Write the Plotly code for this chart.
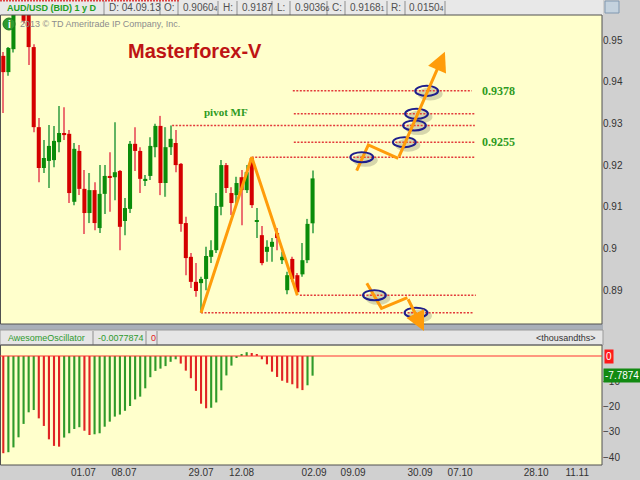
import plotly.graph_objects as go

# ------------------------------------------------------------------ data
symbol_label = "AUD/USD (BID) 1 y D"
last_date = "04.09.13"

opens = [0.9462, 0.9423, 0.9478, 0.9620, 0.9590, 0.9575, 0.9483, 0.9291, 0.9193, 0.9210,
         0.9212, 0.9255, 0.9277, 0.9275, 0.9112, 0.9234, 0.9143, 0.9085, 0.9140, 0.9049,
         0.9131, 0.9174, 0.9171, 0.9186, 0.9066, 0.9095, 0.9251, 0.9234, 0.9164, 0.9174,
         0.9243, 0.9294, 0.9157, 0.9243, 0.9253, 0.9203, 0.9061, 0.8980, 0.8920, 0.8917,
         0.8927, 0.8980, 0.8996, 0.9100, 0.9200, 0.9133, 0.9128, 0.9171, 0.9140, 0.9217,
         0.9064, 0.9032, 0.8992, 0.9004, 0.9037, 0.8972, 0.8900, 0.8975, 0.8936, 0.8938,
         0.8972, 0.90604]
highs = [0.9471, 0.9483, 0.9605, 0.9650, 0.9600, 0.9585, 0.9490, 0.9313, 0.9260, 0.9296,
         0.9294, 0.9342, 0.9339, 0.9284, 0.9253, 0.9248, 0.9188, 0.9181, 0.9159, 0.9200,
         0.9200, 0.9231, 0.9303, 0.9188, 0.9121, 0.9258, 0.9291, 0.9243, 0.9176, 0.9267,
         0.9299, 0.9318, 0.9291, 0.9295, 0.9284, 0.9205, 0.9076, 0.8989, 0.8965, 0.8932,
         0.9004, 0.9020, 0.9133, 0.9212, 0.9205, 0.9147, 0.9172, 0.9188, 0.9200, 0.9219,
         0.9097, 0.9054, 0.9020, 0.9025, 0.9049, 0.8992, 0.8944, 0.8980, 0.8941, 0.9013,
         0.9071, 0.9187]
lows = [0.9325, 0.9414, 0.9470, 0.9585, 0.9540, 0.9440, 0.9279, 0.9159, 0.9181, 0.9145,
        0.9195, 0.9231, 0.9260, 0.9109, 0.9104, 0.9128, 0.9035, 0.9061, 0.9044, 0.9037,
        0.9083, 0.9088, 0.9116, 0.8996, 0.9032, 0.9085, 0.9186, 0.9133, 0.9150, 0.9164,
        0.9219, 0.9128, 0.9124, 0.9224, 0.9183, 0.9040, 0.8936, 0.8905, 0.8884, 0.8846,
        0.8900, 0.8965, 0.8989, 0.9080, 0.9133, 0.9080, 0.9105, 0.9056, 0.9133, 0.9097,
        0.9025, 0.8960, 0.8968, 0.8968, 0.8996, 0.8963, 0.8890, 0.8920, 0.8888, 0.8932,
        0.8965, 0.90366]
closes = [0.9423, 0.9481, 0.9580, 0.9600, 0.9546, 0.9483, 0.9291, 0.9193, 0.9217, 0.9246,
          0.9258, 0.9277, 0.9272, 0.9133, 0.9239, 0.9143, 0.9085, 0.9140, 0.9061, 0.9131,
          0.9174, 0.9169, 0.9183, 0.9052, 0.9097, 0.9251, 0.9234, 0.9167, 0.9167, 0.9246,
          0.9294, 0.9157, 0.9243, 0.9263, 0.9200, 0.9059, 0.8977, 0.8920, 0.8898, 0.8927,
          0.8982, 0.8996, 0.9102, 0.9200, 0.9145, 0.9109, 0.9157, 0.9140, 0.9183, 0.9104,
          0.9068, 0.8965, 0.9004, 0.9016, 0.9025, 0.8980, 0.8936, 0.8927, 0.8895, 0.8972,
          0.9059, 0.91681]

# Awesome Oscillator, thousandths
ao_before = -37.9
ao_values = [-38.5, -38.1, -36.2, -32.2, -26.9, -22.3, -21.4, -24.7, -27.7, -33.0,
             -35.6, -35.9, -32.3, -30.6, -28.9, -28.2, -29.6, -31.3, -31.0, -30.6,
             -28.0, -26.0, -24.0, -23.2, -21.7, -19.8, -17.2, -16.1, -12.8, -8.4,
             -5.9, -5.0, -4.0, -2.3, -1.3, -3.0, -5.8, -8.8, -13.8, -18.9,
             -20.7, -20.5, -18.4, -13.6, -7.7, -3.8, -0.6, 0.8, 1.5, 1.2,
             0.4, -1.3, -3.3, -6.2, -8.3, -9.8, -10.6, -11.2, -12.8, -13.5,
             -11.6, -7.7874]

x_tick_labels = ["01.07", "08.07", "29.07", "12.08", "02.09", "09.09", "30.09", "07.10", "28.10", "11.11"]
x_tick_bars = [15.8, 23.8, 39.0, 47.0, 61.3, 69.0, 82.2, 90.1, 105.1, 113.2]
price_ticks = [0.89, 0.9, 0.91, 0.92, 0.93, 0.94, 0.95]
ao_ticks = [-10, -20, -30, -40]

# dotted level lines (price, first bar, last bar)
level_values = [0.9378, 0.9323, 0.9295, 0.9255, 0.9219, 0.8888, 0.8846]
level_first_bar = [57.1, 57.3, 33.3, 57.3, 49.0, 58.5, 39.0]
level_last_bar = [92.4, 93.0, 93.0, 93.0, 93.0, 93.2, 92.6]
labeled_levels = ["0.9378", "0.9255"]
pivot_label = "pivot MF"

# circled crossings (bar, price)
ellipse_bars = [83.5, 81.5, 81.1, 79.1, 70.7, 73.2, 81.4]
ellipse_prices = [0.9378, 0.9323, 0.9295, 0.9255, 0.9219, 0.8888, 0.8846]

# zig-zag swing (bar index of its points)
swing_bars = [39, 49, 58]
# projected paths
up_bars = [69.7, 72.0, 77.9]
up_prices = [0.91866, 0.92482, 0.92163]
up_tip = (87.1, 0.9472)
down_bars = [71.7, 74.6, 79.7]
down_prices = [0.89166, 0.88566, 0.88820]

header_values = {"O": "0.9060<span style='font-size:7px'>4</span>",
                 "H": "0.9187",
                 "L": "0.9036<span style='font-size:7px'>6</span>",
                 "C": "0.9168<span style='font-size:7px'>1</span>",
                 "R": "0.0150<span style='font-size:7px'>4</span>"}

# ------------------------------------------------------------------ geometry
W, H = 640, 480
ML, MR, MT, MB = 0, 38, 15, 15
PW, PH = W - ML - MR, H - MT - MB
BAR_X0, BAR_DX = 3.3, 5.07          # pixel position of bar 0, bar spacing
PRICE_PX = 4170.0                   # pixels per 1.0 of price
P_REF, P_REF_Y = 0.95, 40.0
AO_PX, AO_ZERO_Y = 2.525, 356.0

def PX(x):
    return (x - ML) / PW

def PY(y):
    return (H - MB - y) / PH

x_range = [(0 - BAR_X0) / BAR_DX, (PW - BAR_X0) / BAR_DX]
main_top, main_bot = 15, 324
osc_top, osc_bot = 345, 465
y_range = [P_REF - (main_bot - P_REF_Y) / PRICE_PX, P_REF + (P_REF_Y - main_top) / PRICE_PX]
y2_range = [-(osc_bot - AO_ZERO_Y) / AO_PX, (AO_ZERO_Y - osc_top) / AO_PX]

GREEN, RED = "#0A8C0A", "#D40000"
GREEN_W, RED_W = "#62B462", "#EC7070"
ORANGE = "#FF9C0A"
NAVY = "#1E1E8C"
LEVEL_RED = "#E23A3A"
TEXT_GREEN = "#2E9A22"

n = len(opens)
idx = list(range(n))
up = [c >= o for o, c in zip(opens, closes)]

fig = go.Figure()

# wicks
fig.add_trace(go.Bar(x=idx, y=[h - l for h, l in zip(highs, lows)], base=lows, width=0.22,
                     marker=dict(color=[GREEN_W if u else RED_W for u in up], line=dict(width=0)),
                     xaxis="x", yaxis="y", hoverinfo="skip"))
# bodies
fig.add_trace(go.Bar(x=idx, y=[max(abs(c - o), 0.00025) for o, c in zip(opens, closes)],
                     base=[min(o, c) for o, c in zip(opens, closes)], width=0.8,
                     marker=dict(color=[GREEN if u else RED for u in up], line=dict(width=0)),
                     xaxis="x", yaxis="y", hoverinfo="skip"))

# AO histogram
prev = [ao_before] + ao_values[:-1]
ao_colors = ["#2F9A2A" if v >= p else "#E02424" for v, p in zip(ao_values, prev)]
fig.add_trace(go.Bar(x=idx, y=ao_values, width=0.42, marker=dict(color=ao_colors, line=dict(width=0)),
                     xaxis="x2", yaxis="y2", hoverinfo="skip"))

# level lines
for v, a, b in zip(level_values, level_first_bar, level_last_bar):
    fig.add_trace(go.Scatter(x=[a, b], y=[v, v], mode="lines",
                             line=dict(color=LEVEL_RED, width=1.5, dash="2px,1.5px"),
                             xaxis="x", yaxis="y", hoverinfo="skip"))

# swing zigzag
swing_prices = [lows[swing_bars[0]], highs[swing_bars[1]], lows[swing_bars[2]]]
fig.add_trace(go.Scatter(x=swing_bars, y=swing_prices, mode="lines",
                         line=dict(color=ORANGE, width=3), xaxis="x", yaxis="y", hoverinfo="skip"))
fig.add_trace(go.Scatter(x=up_bars, y=up_prices, mode="lines",
                         line=dict(color=ORANGE, width=3), xaxis="x", yaxis="y", hoverinfo="skip"))
fig.add_trace(go.Scatter(x=down_bars, y=down_prices, mode="lines",
                         line=dict(color=ORANGE, width=3), xaxis="x", yaxis="y", hoverinfo="skip"))

shapes = []
# header bar
shapes.append(dict(type="rect", xref="paper", yref="paper", x0=PX(0), x1=PX(603), y0=PY(0), y1=PY(15),
                   fillcolor="#E8E8E8", line=dict(width=0), layer="below"))
for bx in [104, 160, 178, 218, 237, 272, 290, 327, 345, 387, 405, 445]:
    shapes.append(dict(type="line", xref="paper", yref="paper", x0=PX(bx), x1=PX(bx), y0=PY(1), y1=PY(15),
                       line=dict(color="#8E8E8E", width=1)))
shapes.append(dict(type="line", xref="paper", yref="paper", x0=PX(0), x1=PX(180), y0=PY(0.8), y1=PY(0.8),
                   line=dict(color="#E04040", width=1.5, dash="2px,1px")))
# top-right icon
shapes.append(dict(type="rect", xref="paper", yref="paper", x0=PX(605), x1=PX(619), y0=PY(13), y1=PY(1),
                   fillcolor="#C4D2DE", line=dict(color="#8098B0", width=1)))
# separator & oscillator header
shapes.append(dict(type="rect", xref="paper", yref="paper", x0=PX(0), x1=PX(603), y0=PY(330), y1=PY(324),
                   fillcolor="#A9AFB8", line=dict(width=0)))
shapes.append(dict(type="rect", xref="paper", yref="paper", x0=PX(0), x1=PX(603), y0=PY(345), y1=PY(330),
                   fillcolor="#E6E6E6", line=dict(color="#9A9A9A", width=1)))
for bx in [93, 146, 157]:
    shapes.append(dict(type="line", xref="paper", yref="paper", x0=PX(bx), x1=PX(bx), y0=PY(331), y1=PY(345),
                       line=dict(color="#8E8E8E", width=1)))
# panel frames
shapes.append(dict(type="rect", xref="paper", yref="paper", x0=PX(0.5), x1=PX(602), y0=PY(main_bot), y1=PY(main_top),
                   line=dict(color="#505050", width=1)))
shapes.append(dict(type="rect", xref="paper", yref="paper", x0=PX(0.5), x1=PX(602), y0=PY(osc_bot), y1=PY(osc_top),
                   line=dict(color="#505050", width=1)))
# zero line of oscillator
shapes.append(dict(type="line", xref="paper", yref="y2", x0=0, x1=1, y0=0, y1=0,
                   line=dict(color="#FF3030", width=1)))
# info icon
shapes.append(dict(type="circle", xref="paper", yref="paper", x0=PX(3), x1=PX(15), y0=PY(30), y1=PY(18),
                   fillcolor="#2E9A2E", line=dict(color="#1E7A1E", width=1)))

# ellipses with shadows
EW, EH = 4.5, 0.0024
for bx, pv in zip(ellipse_bars, ellipse_prices):
    shapes.append(dict(type="circle", xref="x", yref="y", x0=bx - EW / 2 + 0.5, x1=bx + EW / 2 + 0.9,
                       y0=pv - EH / 2 - 0.0011, y1=pv + EH / 2 - 0.0004,
                       fillcolor="rgba(120,120,95,0.30)", line=dict(width=0), layer="below"))
for bx, pv in zip(ellipse_bars, ellipse_prices):
    shapes.append(dict(type="circle", xref="x", yref="y", x0=bx - EW / 2, x1=bx + EW / 2,
                       y0=pv - EH / 2, y1=pv + EH / 2, line=dict(color=NAVY, width=2)))

ann = []
def text(x, y, s, size=10, color="#505050", anchor="left", bold=False, family=None, **kw):
    d = dict(xref="paper", yref="paper", x=PX(x), y=PY(y), text=("<b>%s</b>" % s) if bold else s,
             showarrow=False, xanchor=anchor, yanchor="middle",
             font=dict(size=size, color=color, family=family or "Liberation Sans, Arial"))
    d.update(kw)
    ann.append(d)

text(5, 7.5, symbol_label, size=9, color="#22A022", bold=True)
text(107, 7.5, "D: " + last_date)
hdr_x = {"O": (162, 181), "H": (221, 240), "L": (275, 293), "C": (330, 348), "R": (389, 407)}
for k, (lx, vx) in hdr_x.items():
    text(lx, 7.5, k + ":")
    text(vx, 7.5, header_values[k])

text(18, 24.5, "2013 © TD Ameritrade IP Company, Inc.", size=9, color="#8C8C8C")
text(9, 24, "i", size=10, color="white", anchor="center", bold=True)
text(195, 51, "Masterforex-V", size=20, color="#BE1414", anchor="center", bold=True)

text(6, 337.5, "AwesomeOscillator", size=9, color="#2E9A2E")
text(96, 337.5, "%.7f" % (ao_values[-1] / 1000), size=9, color="#2E9A2E")
text(149, 337.5, "0", size=9, color="#E02020")
text(598, 337.5, "&lt;thousandths&gt;", size=9, color="#333333", anchor="right")

# level texts in data coordinates
ann.append(dict(xref="x", yref="y", x=(204 + 248) / 2 / BAR_DX - BAR_X0 / BAR_DX, y=level_values[2] + 0.0033,
                text="<b>%s</b>" % pivot_label, showarrow=False, xanchor="center", yanchor="middle",
                font=dict(size=11, color=TEXT_GREEN, family="Liberation Serif, Times New Roman")))
for lab in labeled_levels:
    ann.append(dict(xref="x", yref="y", x=(480 - BAR_X0) / BAR_DX, y=float(lab),
                    text="<b>%s</b>" % lab, showarrow=False, xanchor="left", yanchor="middle",
                    font=dict(size=12, color=TEXT_GREEN, family="Liberation Serif, Times New Roman")))

# oscillator badges
ann.append(dict(xref="paper", yref="y2", x=1, y=0, xanchor="left", yanchor="middle", xshift=2,
                text="0", showarrow=False, bgcolor="#FF1A1A", borderpad=1,
                font=dict(size=10, color="white")))
ann.append(dict(xref="paper", yref="y2", x=1, y=ao_values[-1], xanchor="left", yanchor="middle", xshift=1,
                text="%.4f" % ao_values[-1], showarrow=False, bgcolor="#128A12", borderpad=1,
                font=dict(size=10, color="white")))

# arrow heads of projected paths
ann.append(dict(xref="x", yref="y", x=up_tip[0], y=up_tip[1], axref="x", ayref="y",
                ax=up_bars[-1], ay=up_prices[-1], text="", showarrow=True,
                arrowhead=2, arrowsize=1.3, arrowwidth=3, arrowcolor=ORANGE, standoff=0))
tail_px_x = BAR_X0 + down_bars[-1] * BAR_DX
tail_px_y = P_REF_Y + (P_REF - down_prices[-1]) * PRICE_PX
tip_px = (424.0, 331.0)
ann.append(dict(xref="x", yref="paper", x=(tip_px[0] - BAR_X0) / BAR_DX, y=PY(tip_px[1]),
                ax=tail_px_x - tip_px[0], ay=tail_px_y - tip_px[1], text="", showarrow=True,
                arrowhead=2, arrowsize=1.3, arrowwidth=3, arrowcolor=ORANGE, standoff=0))

fig.update_layout(
    template="none",
    width=W, height=H,
    margin=dict(l=ML, r=MR, t=MT, b=MB, pad=0),
    paper_bgcolor="#D0D0D0",
    plot_bgcolor="#FFFFCC",
    showlegend=False,
    barmode="overlay",
    font=dict(family="Liberation Sans, Arial", size=10, color="#333333"),
    xaxis=dict(domain=[0, 1], range=x_range, anchor="y", showticklabels=False, showgrid=False,
               zeroline=False, showline=False, ticks="", fixedrange=True),
    xaxis2=dict(domain=[0, 1], range=x_range, anchor="y2", tickmode="array", tickvals=x_tick_bars,
                ticktext=x_tick_labels, showgrid=False, zeroline=False, showline=False, ticks="",
                tickfont=dict(size=10, color="#333333"), fixedrange=True),
    yaxis=dict(domain=[PY(main_bot), PY(main_top)], range=y_range, anchor="x", side="right",
               tickmode="array", tickvals=price_ticks, showgrid=False, zeroline=False, showline=False,
               ticks="", tickfont=dict(size=10, color="#333333"), fixedrange=True),
    yaxis2=dict(domain=[PY(osc_bot), PY(osc_top)], range=y2_range, anchor="x2", side="right",
                tickmode="array", tickvals=ao_ticks, showgrid=False, zeroline=False, showline=False,
                ticks="", tickfont=dict(size=10, color="#333333"), fixedrange=True),
    shapes=shapes,
    annotations=ann,
)

fig.write_html("out.html", config={"displayModeBar": False},
               post_script="document.body.style.margin='0';document.body.style.padding='0';"
                           "document.body.style.overflow='hidden';")
